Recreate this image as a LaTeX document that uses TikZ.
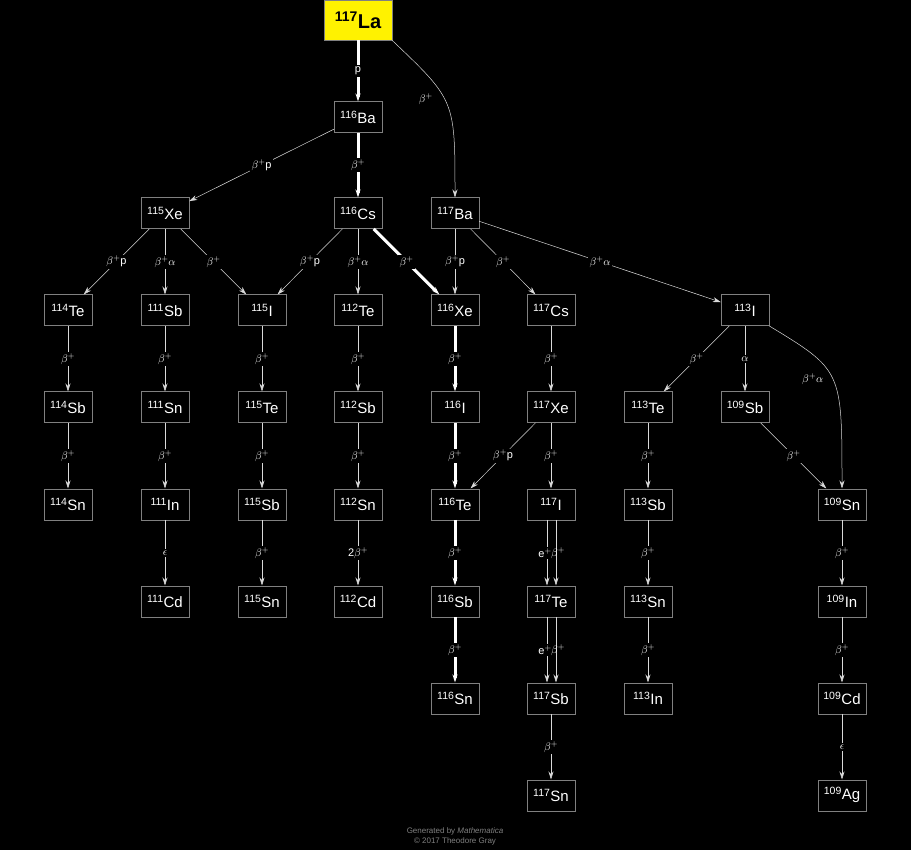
\documentclass[tikz,border=0pt]{standalone}
\usepackage{fontspec}
\setmainfont{Liberation Sans}
\usetikzlibrary{arrows.meta}
\newcommand{\iso}[2]{\textsuperscript{#1}#2}
\begin{document}
\begin{tikzpicture}[x=1pt, y=-1pt,
    n/.style={draw=gray, fill=black, text=white, minimum width=48pt, minimum height=31pt, inner sep=1pt, font=\fontsize{15}{17}\selectfont},
    d/.style={-{Stealth[length=8pt,width=5pt]}, draw=white!85!black, line width=0.5pt},
    t/.style={d, line width=3pt, draw=white},
    l/.style={fill=black, text=white, inner sep=1.5pt, font=\fontsize{11}{12}\selectfont}]
    \fill[black] (0,0) rectangle (911,850);
    \node[draw=gray, fill=yellow, text=black, minimum width=68pt, minimum height=40pt, font=\bfseries\fontsize{20}{22}\selectfont] (la) at (358,20) {\iso{117}{La}};
    \node[n] (ba116) at (358,117) {\iso{116}{Ba}};
    \node[n] (xe115) at (165,213) {\iso{115}{Xe}};
    \node[n] (cs116) at (358,213) {\iso{116}{Cs}};
    \node[n] (ba117) at (455,213) {\iso{117}{Ba}};
    \node[n] (te114) at (68,310) {\iso{114}{Te}};
    \node[n] (sb111) at (165,310) {\iso{111}{Sb}};
    \node[n] (i115) at (262,310) {\iso{115}{I}};
    \node[n] (te112) at (358,310) {\iso{112}{Te}};
    \node[n] (xe116) at (455,310) {\iso{116}{Xe}};
    \node[n] (cs117) at (551,310) {\iso{117}{Cs}};
    \node[n] (i113) at (745,310) {\iso{113}{I}};
    \node[n] (sb114) at (68,407) {\iso{114}{Sb}};
    \node[n] (sn111) at (165,407) {\iso{111}{Sn}};
    \node[n] (te115) at (262,407) {\iso{115}{Te}};
    \node[n] (sb112) at (358,407) {\iso{112}{Sb}};
    \node[n] (i116) at (455,407) {\iso{116}{I}};
    \node[n] (xe117) at (551,407) {\iso{117}{Xe}};
    \node[n] (te113) at (648,407) {\iso{113}{Te}};
    \node[n] (sb109) at (745,407) {\iso{109}{Sb}};
    \node[n] (sn114) at (68,504) {\iso{114}{Sn}};
    \node[n] (in111) at (165,504) {\iso{111}{In}};
    \node[n] (sb115) at (262,504) {\iso{115}{Sb}};
    \node[n] (sn112) at (358,504) {\iso{112}{Sn}};
    \node[n] (te116) at (455,504) {\iso{116}{Te}};
    \node[n] (i117) at (551,504) {\iso{117}{I}};
    \node[n] (sb113) at (648,504) {\iso{113}{Sb}};
    \node[n] (sn109) at (842,504) {\iso{109}{Sn}};
    \node[n] (cd111) at (165,601) {\iso{111}{Cd}};
    \node[n] (sn115) at (262,601) {\iso{115}{Sn}};
    \node[n] (cd112) at (358,601) {\iso{112}{Cd}};
    \node[n] (sb116) at (455,601) {\iso{116}{Sb}};
    \node[n] (te117) at (551,601) {\iso{117}{Te}};
    \node[n] (sn113) at (648,601) {\iso{113}{Sn}};
    \node[n] (in109) at (842,601) {\iso{109}{In}};
    \node[n] (sn116) at (455,698) {\iso{116}{Sn}};
    \node[n] (sb117) at (551,698) {\iso{117}{Sb}};
    \node[n] (in113) at (648,698) {\iso{113}{In}};
    \node[n] (cd109) at (842,698) {\iso{109}{Cd}};
    \node[n] (sn117) at (551,795) {\iso{117}{Sn}};
    \node[n] (ag109) at (842,795) {\iso{109}{Ag}};

    \draw[t] (la) -- node[l] {p} (ba116);
    \draw[d] (la.south east) .. controls (455,100) .. node[l, pos=0.45, left=10pt] {$\beta^+$} (ba117);
    \draw[d] (ba116) -- node[l] {$\beta^+$p} (xe115);
    \draw[t] (ba116) -- node[l] {$\beta^+$} (cs116);
    \draw[d] (xe115) -- node[l] {$\beta^+$p} (te114);
    \draw[d] (xe115) -- node[l] {$\beta^+\alpha$} (sb111);
    \draw[d] (xe115) -- node[l] {$\beta^+$} (i115);
    \draw[d] (cs116) -- node[l] {$\beta^+$p} (i115);
    \draw[d] (cs116) -- node[l] {$\beta^+\alpha$} (te112);
    \draw[t] (cs116) -- node[l] {$\beta^+$} (xe116);
    \draw[d] (ba117) -- node[l] {$\beta^+$p} (xe116);
    \draw[d] (ba117) -- node[l] {$\beta^+$} (cs117);
    \draw[d] (ba117) -- node[l] {$\beta^+\alpha$} (i113);
    \draw[d] (te114) -- node[l] {$\beta^+$} (sb114);
    \draw[d] (sb114) -- node[l] {$\beta^+$} (sn114);
    \draw[d] (sb111) -- node[l] {$\beta^+$} (sn111);
    \draw[d] (sn111) -- node[l] {$\beta^+$} (in111);
    \draw[d] (in111) -- node[l] {$\epsilon$} (cd111);
    \draw[d] (i115) -- node[l] {$\beta^+$} (te115);
    \draw[d] (te115) -- node[l] {$\beta^+$} (sb115);
    \draw[d] (sb115) -- node[l] {$\beta^+$} (sn115);
    \draw[d] (te112) -- node[l] {$\beta^+$} (sb112);
    \draw[d] (sb112) -- node[l] {$\beta^+$} (sn112);
    \draw[d] (sn112) -- node[l] {2$\beta^+$} (cd112);
    \draw[t] (xe116) -- node[l] {$\beta^+$} (i116);
    \draw[t] (i116) -- node[l] {$\beta^+$} (te116);
    \draw[t] (te116) -- node[l] {$\beta^+$} (sb116);
    \draw[t] (sb116) -- node[l] {$\beta^+$} (sn116);
    \draw[d] (cs117) -- node[l] {$\beta^+$} (xe117);
    \draw[d] (xe117) -- node[l] {$\beta^+$p} (te116);
    \draw[d] (xe117) -- node[l] {$\beta^+$} (i117);
    \draw[d] ([xshift=-4pt]i117.south) -- node[l, xshift=-2pt] {e$^+$} ([xshift=-4pt]te117.north);
    \draw[d] ([xshift=5pt]i117.south) -- node[l, xshift=2pt, fill=none] {$\beta^+$} ([xshift=5pt]te117.north);
    \draw[d] ([xshift=-4pt]te117.south) -- node[l, xshift=-2pt] {e$^+$} ([xshift=-4pt]sb117.north);
    \draw[d] ([xshift=5pt]te117.south) -- node[l, xshift=2pt, fill=none] {$\beta^+$} ([xshift=5pt]sb117.north);
    \draw[d] (sb117) -- node[l] {$\beta^+$} (sn117);
    \draw[d] (i113) -- node[l] {$\beta^+$} (te113);
    \draw[d] (i113) -- node[l] {$\alpha$} (sb109);
    \draw[d] (i113.south east) .. controls (842,370) .. node[l, pos=0.5, left=8pt] {$\beta^+\alpha$} (sn109);
    \draw[d] (te113) -- node[l] {$\beta^+$} (sb113);
    \draw[d] (sb113) -- node[l] {$\beta^+$} (sn113);
    \draw[d] (sn113) -- node[l] {$\beta^+$} (in113);
    \draw[d] (sb109) -- node[l] {$\beta^+$} (sn109);
    \draw[d] (sn109) -- node[l] {$\beta^+$} (in109);
    \draw[d] (in109) -- node[l] {$\beta^+$} (cd109);
    \draw[d] (cd109) -- node[l] {$\epsilon$} (ag109);

    \node[text=gray, align=center, font=\fontsize{8}{10}\selectfont] (credit) at (455,836) {Generated by \textit{Mathematica}\\\textcopyright{} 2017 Theodore Gray};
\end{tikzpicture}
\end{document}
